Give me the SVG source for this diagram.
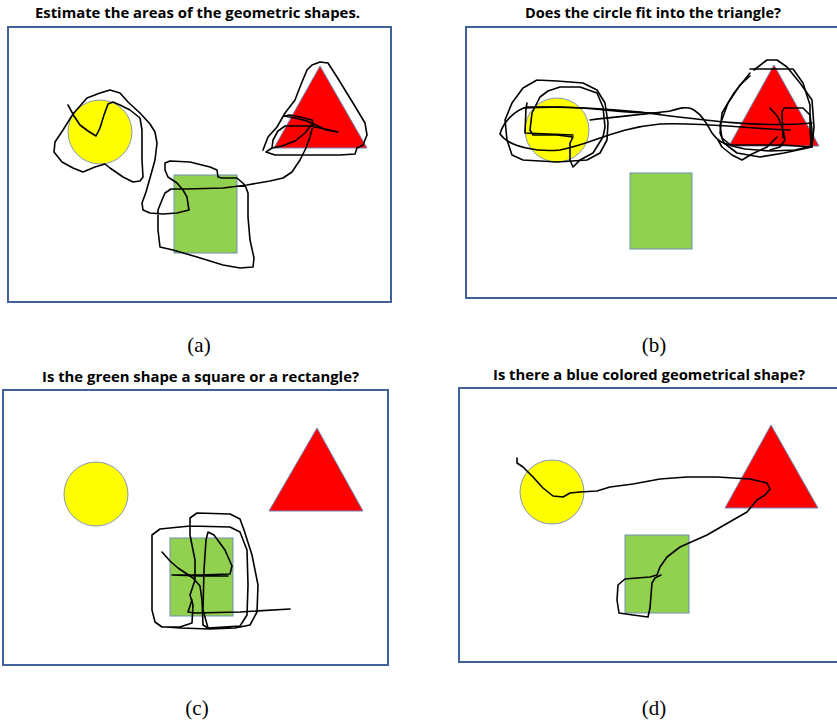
<svg xmlns="http://www.w3.org/2000/svg" width="837" height="723" viewBox="0 0 837 723">
<style>
.box{fill:#fff;stroke:#41619b;stroke-width:2}
.circ{fill:#FFFF00;stroke:#8497b8;stroke-width:1}
.sq{fill:#92D050;stroke:#6f8fb5;stroke-width:1}
.tri{fill:#FF0000;stroke:#7384b3;stroke-width:1}
.ink{fill:none;stroke:#000;stroke-width:1.6;stroke-linejoin:round;stroke-linecap:round}
.title{font-family:"Open Sans","Liberation Sans",sans-serif;font-weight:bold;font-size:14px;text-anchor:middle;fill:#000}
.cap{font-family:"Liberation Serif",serif;font-size:21px;text-anchor:middle;fill:#000}
</style>
<rect width="837" height="723" fill="#fff"/>

<g id="panel-a">
<text class="title" x="197.5" y="18" textLength="325" lengthAdjust="spacingAndGlyphs">Estimate the areas of the geometric shapes.</text>
<rect class="box" x="8" y="27" width="383" height="275"/>
<circle class="circ" cx="100" cy="132" r="32"/>
<rect class="sq" x="174" y="175" width="63" height="78"/>
<polygon class="tri" points="320,66 367,148 274,148"/>
<path class="ink" d="M68,105 L74,116 L80,125 L88,131 L96,136 L100,128 L104,115 L108,104 L113,102 L120,105 L130,110 L140,118 L142,130 L142,145 L142,160 L143,177 L140,181 L133,182 L123,177 L110,168 L105,164 L95,167 L83,172 L73,168 L62,162 L54,152 L55,142 L63,130 L73,114 L87,98 L100,93 L110,90 L120,93 L128,102 L140,113 L150,124 L155,132 L157,143 L155,160 L150,178 L146,192 L142,203 L143,210 L150,213 L163,214 L177,213 L189,210 L188,204 L187,197 L183,190 L177,183 L168,177 L165,170 L165,163 L170,161 L190,162 L210,167 L217,170 L218,177 L222,178 L237,178 L245,185 L248,193 L248,217 L250,240 L254,258 L253,267 L240,268 L223,265 L197,257 L173,250 L160,247 L158,230 L158,210 L162,200 L165,193 L171,189 L187,189 L223,188 L247,185 L270,181 L283,178 L292,172 L300,160 L306,148 L310,137 L313,125 L312,120 L300,117 L290,115 L284,116 L295,118 L307,121 L318,126 L326,130 L338,132 L325,129 L310,126 L285,126 L278,131 L273,140 L272,148 L282,146 L295,141 L305,133 L312,124"/>
<path class="ink" d="M272,148 L266,152 L275,155 L310,155 L340,155 L355,154 L357,148 L363,145 L367,135 L365,123 L353,103 L337,77 L328,63 L320,62 L312,65 L307,70 L302,82 L300,87 L295,100 L285,113 L277,127 L268,137 L263,150"/>
<text class="cap" x="199" y="352">(a)</text>
</g>

<g id="panel-b">
<text class="title" x="653" y="18" textLength="256" lengthAdjust="spacingAndGlyphs">Does the circle fit into the triangle?</text>
<rect class="box" x="466" y="27" width="380" height="271"/>
<circle class="circ" cx="557" cy="130" r="32"/>
<rect class="sq" x="630" y="173" width="62" height="76"/>
<polygon class="tri" points="774,65 819,146 729,146"/>
<path class="ink" d="M537,80 L557,81 L583,83 L597,90 L605,103 L608,123 L607,140 L600,153 L587,160 L557,162 L523,160 L512,155 L507,140 L505,120 L512,103 L523,88 L537,80"/>
<path class="ink" d="M540,97 L548,91 L560,87 L580,87 L597,93 L603,107 L605,127 L603,137 L593,153 L580,160 L573,167 L570,160 L570,143 L573,137 L557,135 L533,135 L530,130 L532,113 L540,97"/>
<path class="ink" d="M527,103 L526,108 L525,133 L573,135"/>
<path class="ink" d="M660,113 C630,114 600,108 560,107 L527,107 C515,110 503,122 500,134 C510,148 540,152 560,150 C590,145 615,128 660,124 C700,122 740,128 790,130"/>
<path class="ink" d="M524,108 C560,106 600,108 640,112 C700,120 760,128 812,123"/>
<path class="ink" d="M590,120 C620,116 650,114 670,111 C680,108 688,106 694,110 C702,115 707,124 712,133 C717,140 722,144 732,145 L784,145 L810,147"/>
<path class="ink" d="M754,70 L767,60 L777,60 L787,67 L800,83 L812,100 L814,127 L812,147 L784,153 L760,157 L737,153 L724,143 L720,133 L722,113 L734,93 L750,73"/>
<path class="ink" d="M750,69 L793,69 L803,83 L810,105 L810,127 L811,146 L795,150 L770,151 L745,149 L732,146 L722,138 L720,125 L728,103 L740,85 L750,76"/>
<path class="ink" d="M770,108 L778,117 L783,130 L785,140 L780,147 L770,150"/>
<path class="ink" d="M783,138 L782,112 L784,108 L803,108 L810,115 L812,130 L812,147"/>
<path class="ink" d="M777,137 L767,147 L752,154 L742,160 L732,155 L722,147 L718,140"/>
<text class="cap" x="654" y="352">(b)</text>
</g>

<g id="panel-c">
<text class="title" x="200.5" y="382" textLength="317" lengthAdjust="spacingAndGlyphs">Is the green shape a square or a rectangle?</text>
<rect class="box" x="3" y="390" width="385" height="275"/>
<circle class="circ" cx="96" cy="494" r="32"/>
<rect class="sq" x="170" y="538" width="63" height="78"/>
<polygon class="tri" points="317,428 363,511 269,511"/>
<path class="ink" d="M162,552 L170,561 L178,568 L193,578 L200,586 L202,600 L203,625 L208,628 L240,626 L247,615 L248,585 L247,550 L240,532 L230,527 L190,526 L160,529 L152,535 L152,560 L152,610 L155,622 L162,627 L180,627 L192,623 L193,605 L190,595 L195,580 L195,560 L190,535 L190,518 L197,513 L230,514 L240,519 L244,530 L252,555 L258,585 L257,612 L250,625 L235,628 L210,629 L180,628 L166,627"/>
<path class="ink" d="M208,628 L203,610 L204,570 L206,540 L208,532 L214,535 L225,550 L232,566 L230,574 L200,575 L172,575 L200,576 L228,576"/>
<path class="ink" d="M192,600 L188,612 L195,613 L240,612 L290,609"/>
<text class="cap" x="197" y="715">(c)</text>
</g>

<g id="panel-d">
<text class="title" x="649" y="380" textLength="312" lengthAdjust="spacingAndGlyphs">Is there a blue colored geometrical shape?</text>
<rect class="box" x="459" y="388" width="387" height="274"/>
<circle class="circ" cx="552" cy="492" r="32"/>
<rect class="sq" x="625" y="535" width="64" height="78"/>
<polygon class="tri" points="771,425 818,508 725,508"/>
<path class="ink" d="M517,458 L517,463 L523,467 L533,477 L543,488 L553,496 L563,497 L570,493 L580,492 L597,491 L610,487 L633,484 L660,479 L687,477 L717,477 L750,479 L767,483 L770,489 L765,495 L757,500 L747,512 L733,520 L707,535 L680,547 L667,557 L660,567 L657,575 L650,577 L637,578 L625,579 L618,585 L617,600 L619,613 L633,615 L648,617 L650,608 L652,583 L655,578 L661,575"/>
<text class="cap" x="654" y="715">(d)</text>
</g>
</svg>
